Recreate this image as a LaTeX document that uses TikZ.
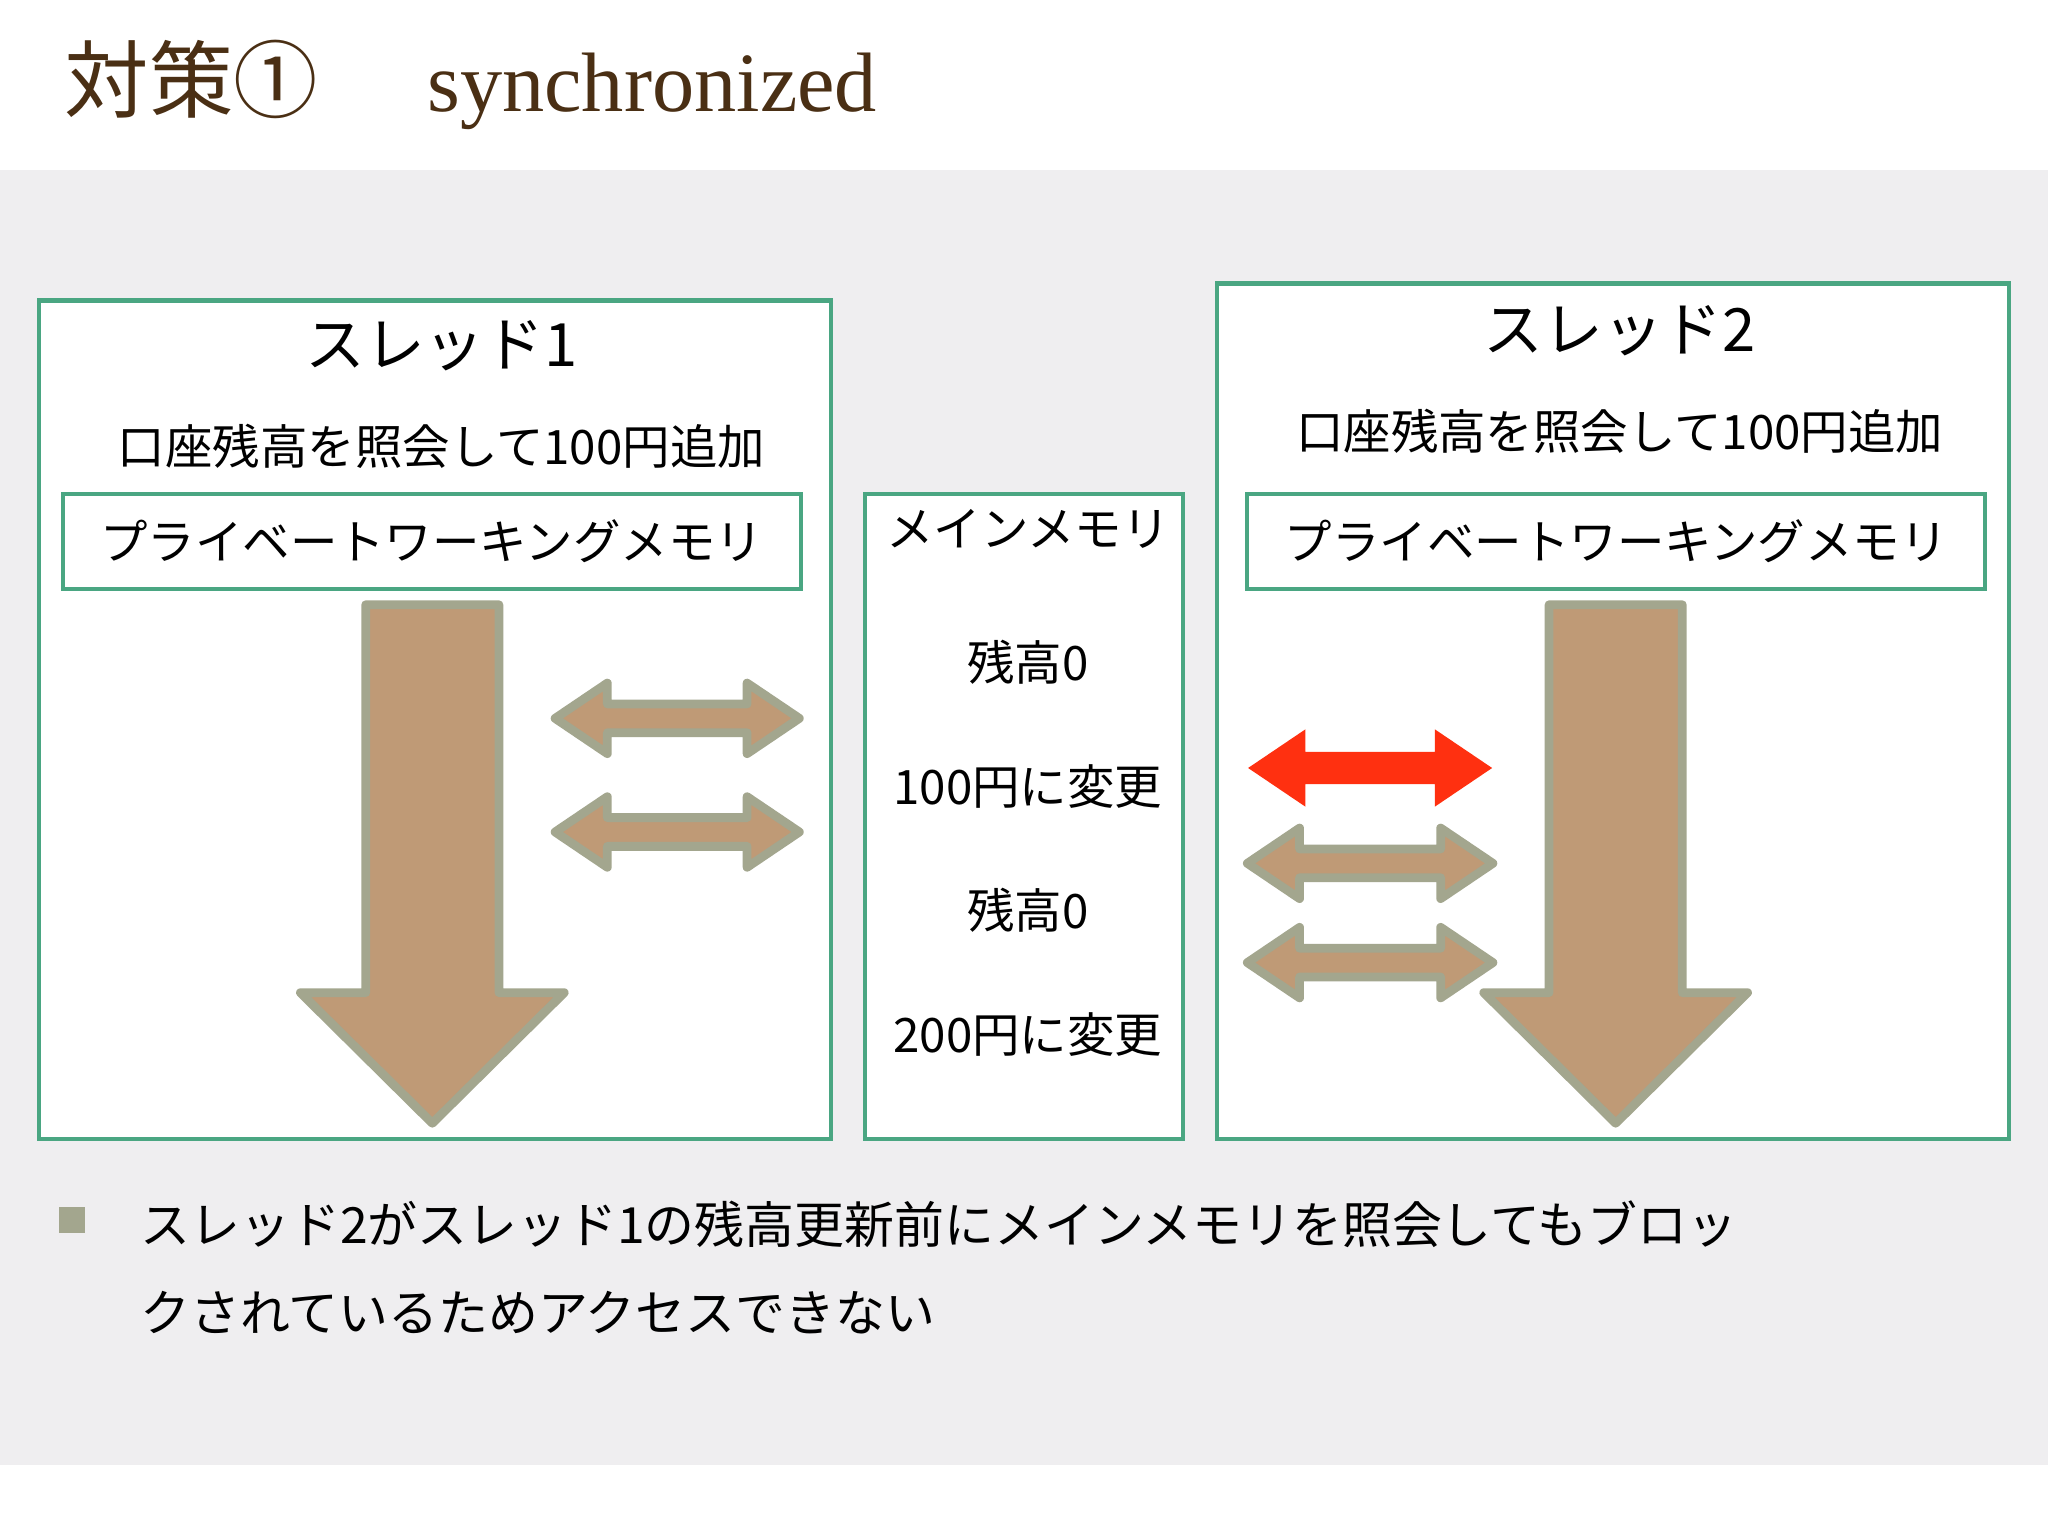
\documentclass[tikz,border=0pt]{standalone}
\usepackage{fontspec}
\setmainfont{Liberation Serif}
\newfontfamily\jp{Noto Sans CJK JP}
\definecolor{bggray}{HTML}{EFEEF0}
\definecolor{boxgreen}{HTML}{4AA682}
\definecolor{arrowfill}{HTML}{BF9A76}
\definecolor{arrowedge}{HTML}{A3A68E}
\definecolor{titlebrown}{HTML}{4A2F14}
\definecolor{alertred}{HTML}{FF3010}
\newcommand{\dblarrow}[4]{% x1, x2, y, colour
  \draw [#4] (#1,#3) -- (#1+40,#3-27) -- (#1+40,#3-11) -- (#2-40,#3-11)
    -- (#2-40,#3-27) -- (#2,#3) -- (#2-40,#3+27) -- (#2-40,#3+11)
    -- (#1+40,#3+11) -- (#1+40,#3+27) -- cycle;}
\newcommand{\flowdown}[2]{% centre x, top y
  \draw [flow] (#1-51,#2) -- (#1+51,#2) -- (#1+51,760) -- (#1+101,760)
    -- (#1,860) -- (#1-101,760) -- (#1-51,760) -- cycle;}
\begin{document}
\begin{tikzpicture}[x=0.01306cm,y=-0.01306cm,
    flow/.style={fill=arrowfill,draw=arrowedge,line width=2.5pt,line join=round},
    hot/.style={fill=alertred,draw=alertred,line width=1pt},
    frame/.style={draw=boxgreen,line width=1.2pt},
    head/.style={font=\jp\fontsize{17}{20}\selectfont},
    body/.style={font=\jp\fontsize{13.5}{16}\selectfont}]
  \useasboundingbox (0,0) rectangle (1568,1176);
  \fill [bggray] (0,130) rectangle (1568,1122);
  \node [anchor=west,text=titlebrown,font=\fontsize{24}{28}\selectfont] (title) at (40,65)
    {{\jp 対策①}\hspace{1.3em}synchronized};

  % thread 1
  \draw [frame,fill=white] (30,230) rectangle (636,872);
  \node [head] (t1) at (338,265) {スレッド1};
  \node [body] (q1) at (338,342) {口座残高を照会して100円追加};
  \node [frame,body,minimum width=565*0.01306cm,minimum height=73*0.01306cm] (pw1) at (330.5,414.5) {プライベートワーキングメモリ};
  \flowdown{331}{463}
  \dblarrow{425}{612}{550}{flow}
  \dblarrow{425}{612}{637}{flow}

  % main memory
  \draw [frame,fill=white] (662,378) rectangle (906,872);
  \node [body] (mm) at (787,405) {メインメモリ};
  \node [body] (m1) at (787,507) {残高0};
  \node [body] (m2) at (787,602) {100円に変更};
  \node [body] (m3) at (787,697) {残高0};
  \node [body] (m4) at (787,792) {200円に変更};

  % thread 2
  \draw [frame,fill=white] (932,217) rectangle (1538,872);
  \node [head] (t2) at (1240,253) {スレッド2};
  \node [body] (q2) at (1240,330) {口座残高を照会して100円追加};
  \node [frame,body,minimum width=565*0.01306cm,minimum height=73*0.01306cm] (pw2) at (1237.5,414.5) {プライベートワーキングメモリ};
  \flowdown{1237}{463}
  \dblarrow{958}{1140}{588}{hot}
  \dblarrow{955}{1143}{661}{flow}
  \dblarrow{955}{1143}{737}{flow}

  % note
  \fill [arrowedge] (45,924) rectangle (65,944);
  \node [anchor=north west,align=left,
    font=\jp\fontsize{14.2}{25}\selectfont] (note) at (98,910)
    {スレッド2がスレッド1の残高更新前にメインメモリを照会してもブロッ\\クされているためアクセスできない};
\end{tikzpicture}
\end{document}
